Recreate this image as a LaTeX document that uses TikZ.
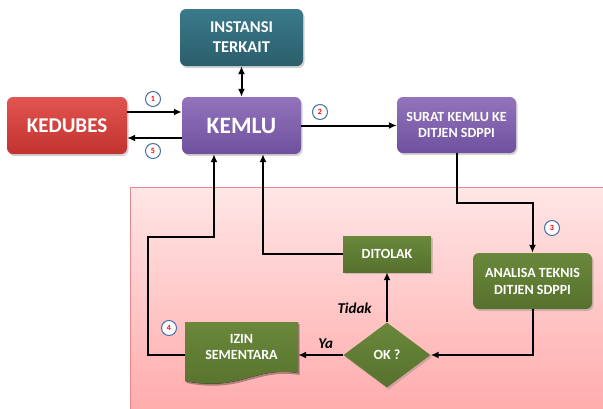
\documentclass[tikz,border=0pt]{standalone}
\usepackage{fontspec}
\setmainfont{Carlito}
\usetikzlibrary{shapes.geometric,shadows,arrows.meta}

\definecolor{redtop}{HTML}{E2544F}
\definecolor{redbot}{HTML}{C2332F}
\definecolor{purtop}{HTML}{9373BC}
\definecolor{purbot}{HTML}{6E519E}
\definecolor{tealtop}{HTML}{3A7A8A}
\definecolor{tealbot}{HTML}{2B5E6C}
\definecolor{greentop}{HTML}{6A883B}
\definecolor{greenbot}{HTML}{56712D}
\definecolor{pinktop}{HTML}{FFE6E6}
\definecolor{pinkbot}{HTML}{FFA9A9}
\definecolor{pinkedge}{HTML}{E58A8A}
\definecolor{badgeblue}{HTML}{4A6FA5}

\begin{document}
\begin{tikzpicture}[x=1pt, y=-1pt,
    box/.style={rounded corners=6pt, text=white, font=\bfseries, align=center,
        drop shadow={opacity=0.35, shadow xshift=1.5pt, shadow yshift=-2pt}},
    redbox/.style={box, top color=redtop, bottom color=redbot},
    purbox/.style={box, top color=purtop, bottom color=purbot},
    tealbox/.style={box, top color=tealtop, bottom color=tealbot},
    greenbox/.style={box, top color=greentop, bottom color=greenbot},
    badge/.style={circle, draw=badgeblue, line width=1pt, fill=white, text=red,
        minimum size=15pt, inner sep=0pt, font=\bfseries\fontsize{8}{8}\selectfont},
    arr/.style={line width=2pt, -{Latex[length=8pt, width=7pt]}},
    dbl/.style={line width=2pt, {Latex[length=8pt, width=7pt]}-{Latex[length=8pt, width=7pt]}},
    answer/.style={font=\bfseries\itshape\fontsize{15}{15}\selectfont}]

    \useasboundingbox (0,0) rectangle (603,408);

    % Pink area of the SDPPI process
    \draw [draw=pinkedge, top color=pinktop, bottom color=pinkbot] (130,187) rectangle (620,420);

    % Top row
    \node [tealbox, minimum width=123pt, minimum height=57pt,
        font=\bfseries\fontsize{16.5}{20}\selectfont] (instansi) at (241.5,37.5) {INSTANSI\\TERKAIT};
    \node [redbox, minimum width=120pt, minimum height=57pt,
        font=\bfseries\fontsize{21}{21}\selectfont] (kedubes) at (67,125.5) {KEDUBES};
    \node [purbox, minimum width=119pt, minimum height=57pt,
        font=\bfseries\fontsize{23.5}{23.5}\selectfont] (kemlu) at (241.5,125.5) {KEMLU};
    \node [purbox, minimum width=119pt, minimum height=56pt,
        font=\bfseries\fontsize{14}{16}\selectfont] (surat) at (456.5,125) {SURAT KEMLU KE\\DITJEN SDPPI};

    % Process boxes
    \node [greenbox, minimum width=119pt, minimum height=56pt,
        font=\bfseries\fontsize{14}{17}\selectfont] (analisa) at (532.5,281) {ANALISA TEKNIS\\DITJEN SDPPI};
    \node [greenbox, rounded corners=0pt, minimum width=88pt, minimum height=36pt,
        font=\bfseries\fontsize{14}{17}\selectfont] (ditolak) at (387,254) {DITOLAK};
    \node [greenbox, rounded corners=0pt, diamond, inner sep=0pt, minimum width=87pt, minimum height=65pt,
        font=\bfseries\fontsize{14}{17}\selectfont] (ok) at (387,355) {OK ?};

    % Document shape for the permit
    \fill [black, opacity=0.3] (186.5,324) -- (299.5,324) -- (299.5,375)
        .. controls (256.5,368) and (241.5,394) .. (186.5,383) -- cycle;
    \fill [top color=greentop, bottom color=greenbot] (185,322) -- (298,322) -- (298,373)
        .. controls (255,366) and (240,392) .. (185,381) -- cycle;
    \node [text=white, align=center, minimum width=113pt, minimum height=50pt,
        font=\bfseries\fontsize{14}{16}\selectfont] (izin) at (241.5,347) {IZIN\\SEMENTARA};

    % Connectors
    \draw [dbl] (instansi.south) -- (kemlu.north);
    \draw [arr] ([yshift=13.5pt]kedubes.east) -- ([yshift=13.5pt]kemlu.west);
    \draw [arr] ([yshift=-12.5pt]kemlu.west) -- ([yshift=-12.5pt]kedubes.east);
    \draw [arr] (kemlu.east) -- (surat.west |- kemlu.east);
    \draw [arr] (surat.south) -- ++(0,50) -| (analisa.north);
    \draw [arr] (analisa.south) |- (ok.east);
    \draw [arr] (ok.north) -- (ditolak.south) node [answer, pos=0.27, left=11pt] {Tidak};
    \draw [arr] (ok.west) -- (ok.west -| izin.east) node [answer, pos=0.39, above=2pt] {Ya};
    \draw [arr] (ditolak.west) -| ([xshift=21.5pt]kemlu.south);
    \draw [arr] ([yshift=-8pt]izin.west) -- ++(-37,0) -- ++(0,-118) -| ([xshift=-27.5pt]kemlu.south);

    % Step numbers
    \node [badge] (n1) at (153,99) {1};
    \node [badge] (n2) at (320,112) {2};
    \node [badge] (n3) at (552,228) {3};
    \node [badge] (n4) at (169,328) {4};
    \node [badge] (n5) at (153,151) {5};
\end{tikzpicture}
\end{document}
